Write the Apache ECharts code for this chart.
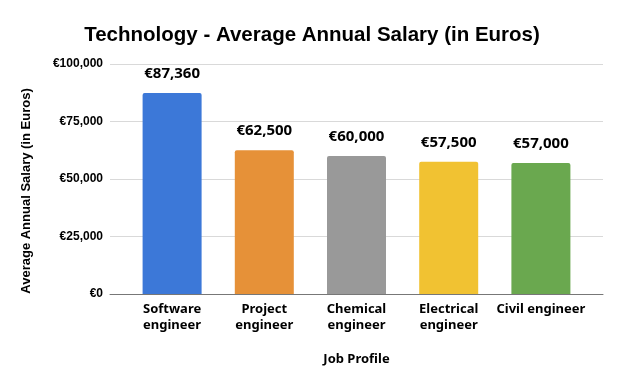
<!DOCTYPE html>
<html>
<head>
<meta charset="utf-8">
<script src="https://cdn.jsdelivr.net/npm/echarts@6/dist/echarts.min.js"></script>
<style>html,body{margin:0;padding:0;background:#fff}#c{width:624px;height:385px}</style>
</head>
<body>
<div id="c"></div>
<script>
var categories = ['Software\nengineer', 'Project\nengineer', 'Chemical\nengineer', 'Electrical\nengineer', 'Civil engineer'];
var salaries = [87360, 62500, 60000, 57500, 57000];
var barColors = ['#3c78d8', '#e69138', '#999999', '#f1c232', '#6aa84f'];
var yTicks = [0, 25000, 50000, 75000, 100000];

function euro(v) { return '€' + Math.round(v).toLocaleString('en-US'); }

var chart = echarts.init(document.getElementById('c'));
chart.setOption({
  animation: false,
  title: {
    text: 'Technology - Average Annual Salary (in Euros)',
    left: 'center', top: 20,
    textStyle: { fontFamily: 'Liberation Sans, Arial', fontWeight: 'bold', fontSize: 20.5, color: '#000' }
  },
  graphic: [{
    type: 'text', x: 26, y: 191, rotation: Math.PI / 2,
    style: { text: 'Average Annual Salary (in Euros)', align: 'center', verticalAlign: 'middle',
      font: 'bold 13px "Liberation Sans", Arial', fill: '#000' }
  }],
  grid: [
    { left: 110, right: 21, top: 64, bottom: 91 },
    { left: 126, right: 37, top: 64, bottom: 91 }
  ],
  xAxis: [
    { gridIndex: 0, type: 'category', data: [''], axisLine: { show: true, lineStyle: { color: '#777', width: 1 } },
      axisTick: { show: false }, axisLabel: { show: false },
      name: 'Job Profile', nameLocation: 'middle', nameGap: 59,
      nameTextStyle: { fontFamily: 'Noto Sans', fontWeight: 'bold', fontSize: 13, color: '#000' } },
    { gridIndex: 1, type: 'category', data: categories, axisLine: { show: false }, axisTick: { show: false },
      axisLabel: { interval: 0, margin: 7, lineHeight: 16, align: 'center', fontFamily: 'Noto Sans', fontWeight: 'bold', fontSize: 13, color: '#000' } }
  ],
  yAxis: [
    { gridIndex: 0, type: 'value', min: yTicks[0], max: yTicks[yTicks.length - 1], interval: 25000,
      axisLine: { show: false }, axisTick: { show: false },
      splitLine: { lineStyle: { color: '#d9d9d9' } },
      axisLabel: { margin: 7, formatter: euro, fontFamily: 'Liberation Sans, Arial', fontWeight: 'bold', fontSize: 12, color: '#000' } },
    { gridIndex: 1, type: 'value', min: yTicks[0], max: yTicks[yTicks.length - 1], interval: 25000, show: false, splitLine: { show: false } }
  ],
  series: [{
    type: 'bar', xAxisIndex: 1, yAxisIndex: 1,
    barWidth: 59,
    data: salaries.map(function (v, i) { return { value: v, itemStyle: { color: barColors[i], borderRadius: [2, 2, 0, 0] } }; }),
    label: { show: true, position: 'top', distance: 12, formatter: function (p) { return euro(p.value); },
      fontFamily: 'Noto Sans', fontWeight: 'bold', fontSize: 15, color: '#000' }
  }]
});
</script>
</body>
</html>
